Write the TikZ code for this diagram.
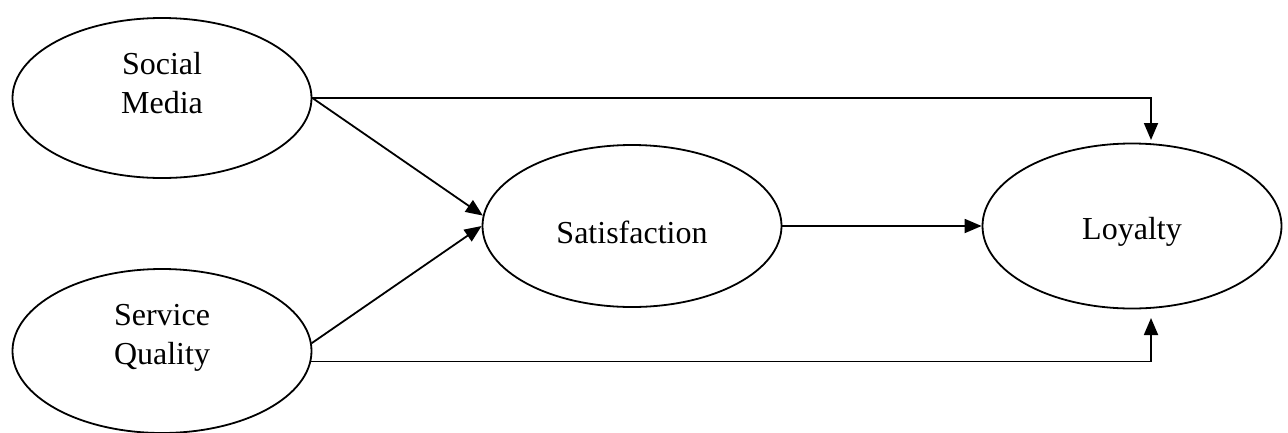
\documentclass[tikz,border=0pt]{standalone}
\usepackage{fontspec}
\setmainfont{Liberation Serif}
\usetikzlibrary{arrows.meta,shapes.geometric}
\begin{document}
\begin{tikzpicture}[x=1pt,y=1pt,
  construct/.style={ellipse,draw,line width=1.8pt,minimum width=299pt,minimum height=162pt,inner sep=0pt,font=\fontsize{32}{39}\selectfont},
  lab/.style={align=center,font=\fontsize{32}{39}\selectfont},
  path/.style={line width=1.8pt,-{Triangle[length=17pt,width=14pt]}}]
\useasboundingbox (0,0) rectangle (1288,-432);
\node[construct,minimum height=160pt,label={[lab,yshift=15pt]center:Social\\Media}] (SM) at (162,-98) {};
\node[construct,minimum height=164pt,label={[lab,yshift=13pt]center:Service\\Quality}] (SQ) at (162,-351) {};
\node[construct,label={[lab,yshift=-6pt]center:Satisfaction}] (SAT) at (632,-226) {};
\node[construct,minimum height=165pt,label={[lab,yshift=-6pt]center:Loyalty}] (LOY) at (1132,-226) {};
\coordinate (t1) at (1151,-140);
\coordinate (t2) at (1151,-318);
\draw[path] (SM.east) -- (SAT.176);
\draw[path] (SQ.3) -- (SAT.west);
\draw[path] (SAT.east) -- (LOY.west);
\draw[path] (SM.east) -| (t1);
\draw[path] (SQ.-4) -| (t2);
\end{tikzpicture}
\end{document}
